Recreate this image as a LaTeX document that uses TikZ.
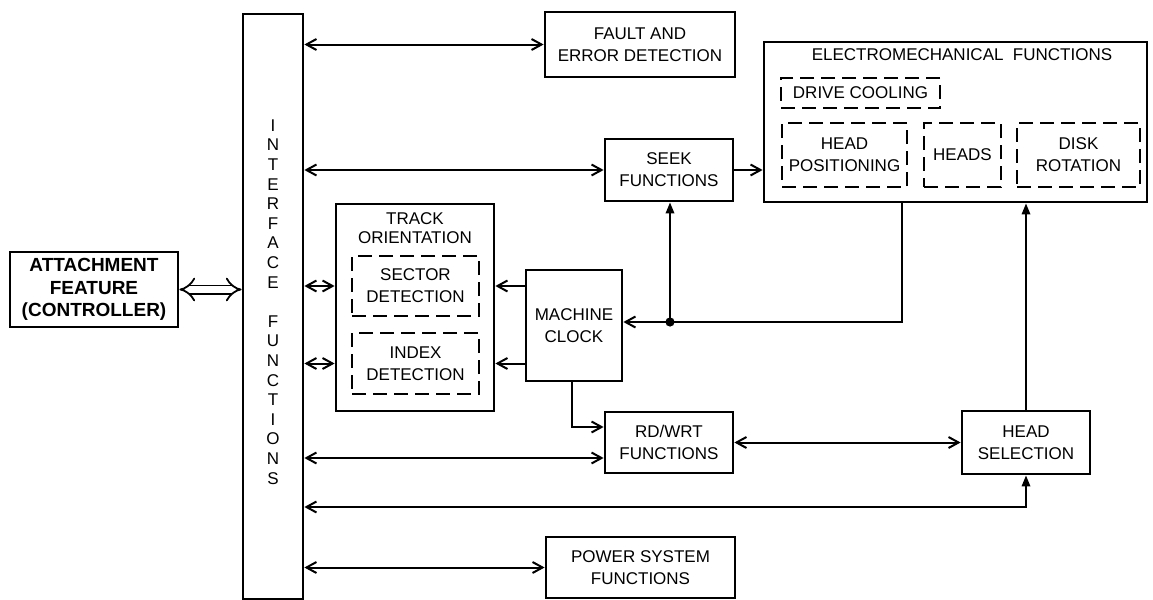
\documentclass[tikz,border=0pt]{standalone}
\usepackage{fontspec}
\setmainfont{Liberation Sans}
\usetikzlibrary{arrows.meta}
\tikzset{
  Bb/.tip={Straight Barb[length=5pt,width=5.5pt,line width=1pt]},
  Tr/.tip={Triangle[length=5.5pt,width=4.2pt]},
}
\begin{document}
\begin{tikzpicture}[x=0.5pt,y=-0.5pt,
  lbl/.style={font=\fontsize{8.5}{11}\selectfont, align=center},
  sz/.style 2 args={minimum width=#1*0.5pt, minimum height=#2*0.5pt},
  box/.style={draw, line width=1.4pt, inner sep=0pt, lbl},
  dbox/.style={draw, line width=1.2pt, dash pattern=on 7pt off 3.5pt, inner sep=0pt, lbl},
  conn/.style={line width=1pt},
]
\useasboundingbox (0,0) rectangle (1153,600);

% interface bar
\node[box, sz={60}{585}] (iface) at (273,306.5) {};
\node[font=\fontsize{8.5}{9.8}\selectfont, align=center, inner sep=0pt] (ifacetext) at (273,302)
  {I\\N\\T\\E\\R\\F\\A\\C\\E\\[9.8pt]F\\U\\N\\C\\T\\I\\O\\N\\S};

% attachment feature
\node[box, sz={168}{75}, font=\bfseries\fontsize{9.5}{11.3}\selectfont] (attach) at (94,289.5)
  {ATTACHMENT\\FEATURE\\(CONTROLLER)};

% boxes
\node[box, sz={190}{65}] (fault) at (640,44.5) {FAULT AND\\ERROR DETECTION};
\node[box, sz={128}{62}] (seek) at (669,170) {SEEK\\FUNCTIONS};
\node[box, sz={96}{111}] (clock) at (574,325.5) {MACHINE\\CLOCK};
\node[box, sz={128}{61}] (rdwrt) at (669,442.5) {RD/WRT\\FUNCTIONS};
\node[box, sz={128}{63}] (hsel) at (1026,442.5) {HEAD\\SELECTION};
\node[box, sz={189}{61}] (power) at (640.5,567.5) {POWER SYSTEM\\FUNCTIONS};

% track orientation
\node[box, sz={158}{207}] (track) at (415,307.5) {};
\node[lbl, inner sep=0pt, font=\fontsize{8.5}{9.6}\selectfont] (tracktitle) at (415,228) {TRACK\\ORIENTATION};
\node[dbox, sz={127}{60}] (sector) at (415.5,286) {SECTOR\\DETECTION};
\node[dbox, sz={127}{61}] (index) at (415.5,363.5) {INDEX\\DETECTION};

% electromechanical
\node[box, sz={383}{160}] (em) at (955.5,122) {};
\node[lbl, inner sep=0pt] (emtitle) at (962,55) {ELECTROMECHANICAL\ \ FUNCTIONS};
\node[dbox, sz={159}{30}] (cool) at (860.5,93) {DRIVE COOLING};
\node[dbox, sz={125}{64}] (hpos) at (844.5,155) {HEAD\\POSITIONING};
\node[dbox, sz={77}{64}] (heads) at (962.5,155) {HEADS};
\node[dbox, sz={123}{64}] (disk) at (1078.5,155) {DISK\\ROTATION};

% connectors
\draw[conn, {Bb}-{Bb}] (iface.east |- fault.west) -- (fault.west);
\draw[conn, {Bb}-{Bb}] (iface.east |- seek.west) -- (seek.west);
\draw[conn, -{Bb}] (seek.east) -- (seek.east -| em.west);
\draw[conn, {Bb}-{Bb}] (iface.east |- sector.west) -- (track.west |- sector.west);
\draw[conn, {Bb}-{Bb}] (iface.east |- index.west) -- (track.west |- index.west);
\draw[conn, -{Bb}] (clock.west |- sector.east) -- (track.east |- sector.east);
\draw[conn, -{Bb}] (clock.west |- index.east) -- (track.east |- index.east);

\coordinate (fb) at (902,322);
\coordinate (jn) at (670,322);
\draw[conn, -{Bb}] (em.south -| fb) |- (clock.east |- fb);
\fill (jn) circle (2.3pt);
\draw[conn, -{Tr}] (jn) -- (seek.south -| jn);

\coordinate (ck) at (572,427);
\draw[conn, -{Bb}] (clock.south -| ck) |- (rdwrt.west |- ck);

\coordinate (rw) at (0,458);
\draw[conn, {Bb}-{Bb}] (iface.east |- rw) -- (rdwrt.west |- rw);
\draw[conn, {Bb}-{Bb}] (rdwrt.east) -- (hsel.west);
\draw[conn, -{Tr}] (hsel.north) -- (hsel.north |- em.south);

\coordinate (lo) at (0,507);
\draw[conn, {Bb}-{Tr}] (iface.east |- lo) -| (hsel.south);
\draw[conn, {Bb}-{Bb}] (iface.east |- power.west) -- (power.west);

\draw[line width=0.9pt, double distance=3.2pt, {Implies}-{Implies}] (attach.east) -- (attach.east -| iface.west);
\end{tikzpicture}
\end{document}
